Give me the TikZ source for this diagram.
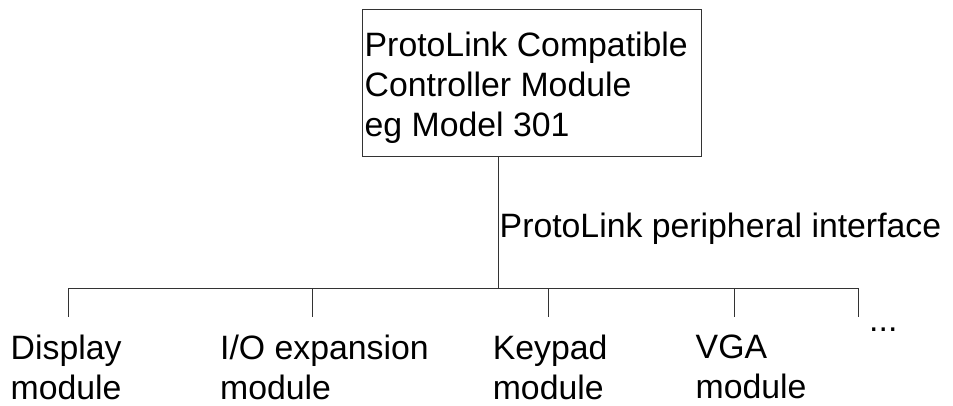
\documentclass[tikz,border=0pt]{standalone}
\usepackage{fontspec}
\setmainfont{Liberation Sans}
\begin{document}
\begin{tikzpicture}[x=1pt,y=-1pt,
  lbl/.style={inner sep=0pt, anchor=north west, align=left, font=\fontsize{33.8}{40}\selectfont},
  lbase/.style={inner sep=0pt, anchor=base west, font=\fontsize{33.8}{40}\selectfont},
  conn/.style={draw=black!80, line width=0.8pt},
  boxstyle/.style={draw=black!80, line width=0.8pt, minimum width=339pt, minimum height=147pt, inner sep=0pt, anchor=north west}]
\useasboundingbox (0,0) rectangle (953,405);
% controller box
\node[boxstyle] (ctrl) at (362,9) {};
\node[lbl] (ctrltext) at (364.5,31.8) {ProtoLink Compatible\\Controller Module\\eg Model 301};
% bus
\coordinate (bus) at (498,288);
\coordinate (b1) at (68,288);
\coordinate (b2) at (312,288);
\coordinate (b3) at (548,288);
\coordinate (b4) at (734,288);
\coordinate (b5) at (858,288);
\coordinate (d1) at (68,317);
\coordinate (d2) at (312,317);
\coordinate (d3) at (548,317);
\coordinate (d4) at (734,317);
\coordinate (d5) at (858,317);
\draw[conn] (bus |- ctrl.south) -- (bus);
\draw[conn] (b1) -- (b5);
\draw[conn] (b1) -- (d1);
\draw[conn] (b2) -- (d2);
\draw[conn] (b3) -- (d3);
\draw[conn] (b4) -- (d4);
\draw[conn] (b5) -- (d5);
% labels
\node[lbase] (iface) at (499.5,237) {ProtoLink peripheral interface};
\node[lbl] (disp) at (10.5,334.8) {Display\\module};
\node[lbl] (io) at (220,334.8) {I/O expansion\\module};
\node[lbl] (key) at (492.6,334.8) {Keypad\\module};
\node[lbl] (vga) at (695.5,334.8) {VGA\\module};
\node[lbase] (more) at (869,331) {...};
\end{tikzpicture}
\end{document}
